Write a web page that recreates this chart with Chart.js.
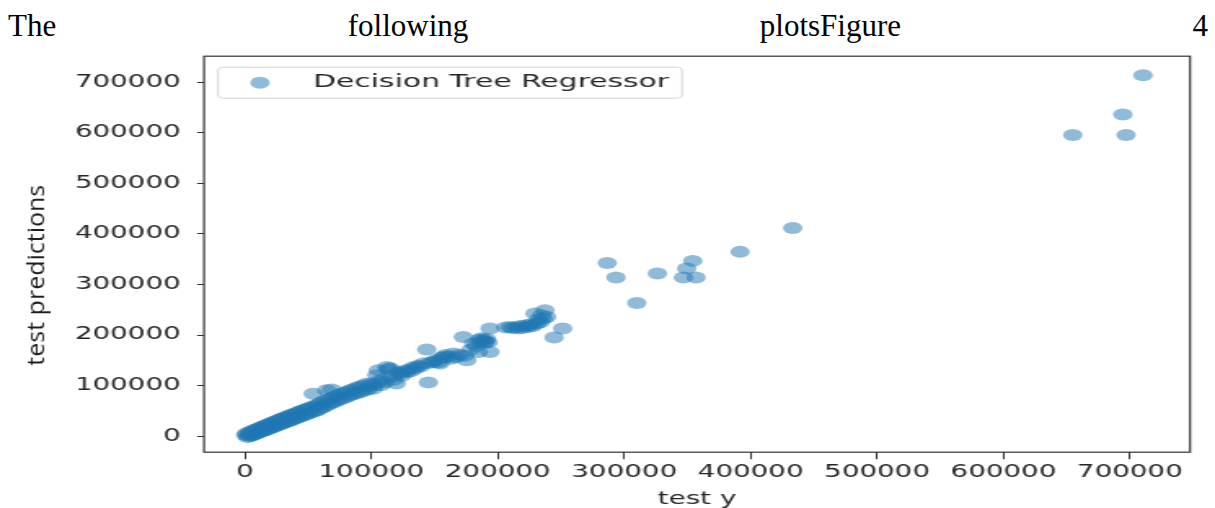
<!DOCTYPE html>
<html>
<head>
<meta charset="utf-8">
<script src="https://cdn.jsdelivr.net/npm/chart.js@4.4.1/dist/chart.umd.min.js"></script>
<style>
  html, body { margin: 0; padding: 0; background: #fff; }
  body { width: 1215px; height: 508px; position: relative; overflow: hidden; }
  #caption {
    position: absolute; left: 8px; right: 7px; top: 10px;
    display: flex; justify-content: space-between;
    font: 31px "Liberation Serif", serif; line-height: 1; color: #000;
  }
  /* the figure is drawn narrow and stretched sideways */
  #plot {
    position: absolute; left: 0; top: 35.8px; width: 745px; height: 475px;
    transform: scaleX(1.630872); transform-origin: 0 0;
  }
  #plot canvas { display: block; }
</style>
</head>
<body>
<div id="caption"><span>The</span><span>following</span><span>plotsFigure</span><span>4</span></div>
<div id="plot"><canvas id="scatter" width="745" height="475"></canvas></div>
<script>
const seriesLabel = 'Decision Tree Regressor';
const xTitle = 'test y';
const yTitle = 'test predictions';
const tickValues = [0, 100000, 200000, 300000, 400000, 500000, 600000, 700000];

const testY = [
  500, 1400, 2100, 2900, 3700, 4500, 5200, 6100, 6800, 7600, 8500, 9300,
  10200, 11000, 11900, 12700, 13500, 14400, 15300, 16100, 17000, 17800, 18800, 19600,
  20500, 21400, 22300, 23100, 24100, 25000, 25900, 26800, 27700, 28600, 29500,
  30500, 31400, 32300, 33300, 34200, 35200, 36100, 37100, 38000, 39000,
  40000, 41000, 42000, 43100, 44100, 45100, 46200, 47200, 48300, 49400,
  50500, 51600, 52700, 53900, 54100, 55300, 56500, 57700, 58800, 59900,
  61100, 62300, 63400, 64600, 64800, 66000, 67200, 68600, 68500, 69800,
  71100, 72400, 73700, 75000, 76300, 77600, 79000, 80300, 81700, 83000,
  84400, 85800, 87200, 88600, 90000, 91400, 92900, 94300, 95800, 97200, 98700,
  100100, 101400, 102600, 104200, 105400, 106100, 107600, 109300, 110800, 112100,
  113600, 114900, 116200, 117800, 119600, 120800, 122500, 124100, 125800, 127600,
  129300, 131000, 132900, 134700, 136800, 138900, 141200, 143700, 145000, 146600,
  148900, 151200, 153000, 154300,
  155800, 156900, 158500, 160900, 162700, 164800, 167100, 169800, 172700, 173800,
  175400, 178600, 180900, 182800, 184600, 185200, 186300, 187100, 188300, 189400,
  190200, 191000, 192300, 193800, 193800,
  206300, 209700, 211900, 214900, 216800, 218700, 220400, 222900, 224300, 226100,
  227800, 229400, 230800, 232200, 233600, 234700, 235800, 237300, 238700, 244500, 251300,
  286600, 293500, 309900, 326200, 346800, 349400, 354200, 356800, 391600, 433300,
  654800, 694400, 697000, 710400
];

const testPred = [
  2600, 5800, -1800, 1200, 7900, 600, 9300, 2400, 11800, 4100, 12900, 5200,
  14900, 6800, 16600, 9100, 18700, 10400, 20300, 12100, 22200, 13300, 24100, 15600,
  25900, 17200, 27800, 18900, 29700, 20500, 31300, 22600, 33500, 24000, 35100,
  26200, 37000, 27900, 38700, 29400, 40800, 31300, 42500, 33100, 44400,
  35300, 46600, 37000, 48500, 39200, 50700, 41100, 52400, 43300, 54500,
  45100, 56800, 47600, 84000, 58600, 49200, 61100, 51900, 64400, 55300,
  67800, 58000, 70200, 91000, 61100, 73000, 64300, 92400, 75500, 66800,
  78300, 69600, 81100, 72400, 83900, 75000, 86600, 77700, 89300, 80400,
  91800, 83100, 94700, 85300, 97100, 87500, 100000, 90200, 103500, 92600, 98900,
  104100, 93800, 101200, 120600, 130200, 108300, 100600, 112400, 106500, 137000,
  132600, 134400, 117800, 111500, 104200, 126300, 123800, 119600, 128900, 126700,
  131400, 128200, 136300, 133800, 139100, 137600, 143800, 171400, 106200, 145400,
  147200, 150600, 146000, 143600,
  155400, 156800, 160500, 157200, 153400, 163500, 156100, 161300, 196400, 158900,
  150300, 171200, 183400, 178600, 166700, 190800, 185600, 193500, 189800, 184300,
  187900, 192600, 185700, 166700, 212900,
  214800, 216100, 213600, 216100, 213200, 218400, 214700, 219500, 216200, 221300,
  218100, 242600, 222800, 230600, 225400, 239300, 232300, 249200, 235900, 195100, 212900,
  342700, 313800, 263600, 321700, 313800, 331600, 346700, 313800, 364500, 411900,
  595800, 636100, 595800, 713900
];

const pointColor = 'rgba(31, 119, 180, 0.5)';
const inkColor = '#262626';

Chart.defaults.font.family = '"DejaVu Sans", sans-serif';
Chart.defaults.color = inkColor;

// axes frame, the legend box in the upper left, and the rotated y label
const framePlugin = {
  id: 'frameAndLabels',
  afterDraw: (chart) => {
    const {ctx, chartArea: ca} = chart;
    ctx.save();
    ctx.strokeStyle = '#333';
    ctx.lineWidth = 1.2;
    ctx.strokeRect(ca.left, ca.top, ca.right - ca.left, ca.bottom - ca.top);

    const bx = ca.left + 8.6, by = ca.top + 11, bw = 284.5, bh = 31;
    ctx.beginPath();
    ctx.roundRect(bx, by, bw, bh, 3);
    ctx.fillStyle = 'rgba(255, 255, 255, 0.8)';
    ctx.fill();
    ctx.strokeStyle = '#d6d6d6';
    ctx.lineWidth = 1;
    ctx.stroke();
    ctx.beginPath();
    ctx.arc(bx + 25.7, by + 15.5, 6, 0, Math.PI * 2);
    ctx.fillStyle = pointColor;
    ctx.fill();
    ctx.fillStyle = inkColor;
    ctx.font = '18.3px "DejaVu Sans"';
    ctx.textAlign = 'left';
    ctx.textBaseline = 'middle';
    ctx.fillText(chart.data.datasets[0].label, bx + 58.2, by + 15.5);

    // y label sits left of the tick labels, centred a little below the axis middle
    ctx.translate(23, ca.top + 219);
    ctx.rotate(-Math.PI / 2);
    ctx.scale(1, 0.6);
    ctx.font = '25px "Open Sans"';
    ctx.fillStyle = '#1e1e1e';
    ctx.textAlign = 'center';
    ctx.fillText(yTitle, 0, 0);
    ctx.restore();
  }
};

new Chart(document.getElementById('scatter'), {
  type: 'scatter',
  data: {
    datasets: [{
      label: seriesLabel,
      data: testY.map((v, i) => ({x: v, y: testPred[i]})),
      pointRadius: 6,
      pointHoverRadius: 6,
      pointBackgroundColor: pointColor,
      pointBorderWidth: 0,
      pointBorderColor: 'rgba(0,0,0,0)'
    }]
  },
  options: {
    responsive: false,
    animation: false,
    layout: {
      padding: {left: 0, top: 0, right: 15.3, bottom: 0}
    },
    plugins: {
      legend: {display: false},
      tooltip: {enabled: false}
    },
    scales: {
      x: {
        type: 'linear',
        min: -32400,
        max: 747600,
        afterBuildTicks: (scale) => { scale.ticks = tickValues.map(v => ({value: v})); },
        afterFit: (scale) => { scale.height = 58.8; },
        grid: {
          drawOnChartArea: false,
          tickLength: 7,
          tickColor: '#333',
          tickWidth: 1
        },
        border: {display: false},
        ticks: {
          autoSkip: false,
          maxRotation: 0,
          padding: 3.5,
          font: {size: 17},
          callback: (v) => String(v)
        },
        title: {
          display: true,
          text: xTitle,
          font: {size: 17},
          padding: {top: 0, bottom: 1.5}
        }
      },
      y: {
        type: 'linear',
        min: -31600,
        max: 751400,
        afterBuildTicks: (scale) => { scale.ticks = tickValues.map(v => ({value: v})); },
        afterFit: (scale) => { scale.width = 125.1; },
        grid: {
          drawOnChartArea: false,
          tickLength: 4.3,
          tickColor: '#333',
          tickWidth: 1
        },
        border: {display: false},
        ticks: {
          padding: 10,
          font: {size: 17},
          callback: (v) => String(v)
        }
      }
    }
  },
  plugins: [framePlugin]
});
</script>
</body>
</html>
